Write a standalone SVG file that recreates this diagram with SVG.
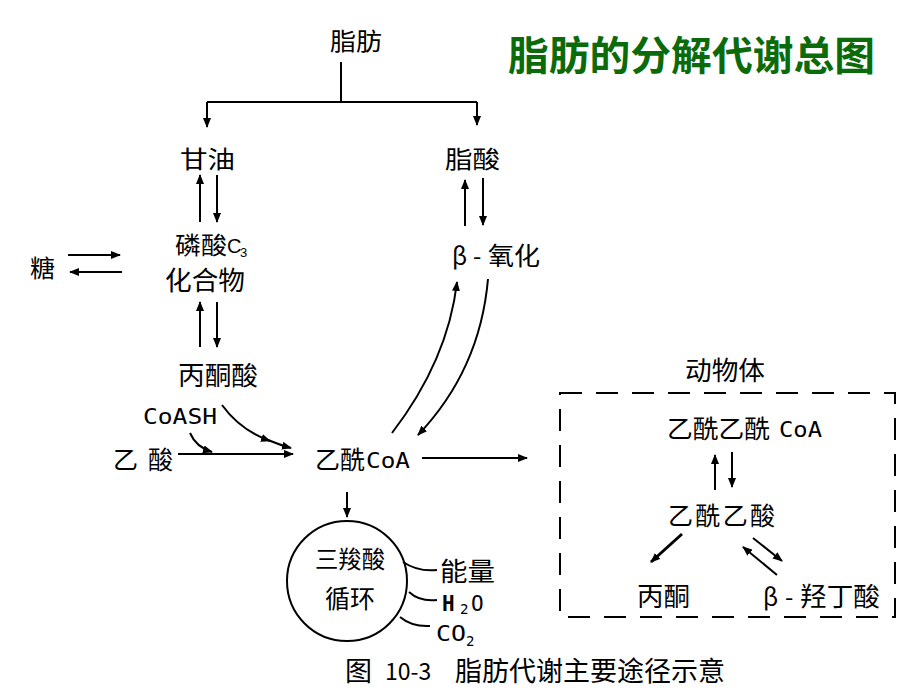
<svg xmlns="http://www.w3.org/2000/svg" width="920" height="690" viewBox="0 0 920 690">
<style>
.t{font-family:"Noto Sans CJK SC","Liberation Sans",sans-serif;fill:#000}
.m{font-family:"DejaVu Sans Mono","Liberation Mono",monospace;fill:#000}
.ln{stroke:#000;stroke-width:2;fill:none}
.title{font-family:"Noto Sans CJK SC",sans-serif;font-size:40px;font-weight:bold;fill:#0b6b0b}
</style>
<defs>
<marker id="ah" markerWidth="10" markerHeight="8" refX="9" refY="4" orient="auto" markerUnits="userSpaceOnUse">
<path d="M0,0 L10,4 L0,8 Z" fill="#000"/>
</marker>
</defs>
<rect width="920" height="690" fill="#fff"/>
<text class="title" x="508" y="70" textLength="367" lengthAdjust="spacingAndGlyphs">脂肪的分解代谢总图</text>

<g id="connectors">
<polyline class="ln" points="341,62 341,102"/>
<polyline class="ln" points="207,102 477,102"/>
<line class="ln" x1="207" y1="102" x2="207" y2="127" marker-end="url(#ah)"/>
<line class="ln" x1="477" y1="102" x2="477" y2="125" marker-end="url(#ah)"/>
<line class="ln" x1="200" y1="222" x2="200" y2="175" marker-end="url(#ah)"/>
<line class="ln" x1="217" y1="175" x2="217" y2="222" marker-end="url(#ah)"/>
<line class="ln" x1="68" y1="255" x2="120" y2="255" marker-end="url(#ah)"/>
<line class="ln" x1="122" y1="272" x2="70" y2="272" marker-end="url(#ah)"/>
<line class="ln" x1="200" y1="347" x2="200" y2="302" marker-end="url(#ah)"/>
<line class="ln" x1="217" y1="302" x2="217" y2="347" marker-end="url(#ah)"/>
<line class="ln" x1="465" y1="226" x2="465" y2="180" marker-end="url(#ah)"/>
<line class="ln" x1="483" y1="178" x2="483" y2="225" marker-end="url(#ah)"/>
<path class="ln" d="M222,405 Q240,430 270,441" marker-end="url(#ah)"/>
<path class="ln" d="M268,440 Q280,445 291,448" marker-end="url(#ah)"/>
<line class="ln" x1="178" y1="454" x2="293" y2="454" marker-end="url(#ah)"/>
<path class="ln" d="M190,433 Q196,447 212,452" marker-end="url(#ah)"/>
<path class="ln" d="M392,433 Q448,360 457,282" marker-end="url(#ah)"/>
<path class="ln" d="M488,279 Q480,370 418,435" marker-end="url(#ah)"/>
<line class="ln" x1="422" y1="458" x2="527" y2="458" marker-end="url(#ah)"/>
<line class="ln" x1="347" y1="492" x2="347" y2="517" marker-end="url(#ah)"/>
<path class="ln" d="M403,562 Q418,572 437,570"/>
<path class="ln" d="M409,592 Q420,602 437,600"/>
<path class="ln" d="M400,617 Q412,627 430,626"/>
<line class="ln" x1="715" y1="490" x2="715" y2="455" marker-end="url(#ah)"/>
<line class="ln" x1="732" y1="452" x2="732" y2="487" marker-end="url(#ah)"/>
<line x1="682" y1="534" x2="651" y2="562" stroke="#000" stroke-width="3" marker-end="url(#ah)"/>
<line x1="753" y1="538" x2="782" y2="561" stroke="#000" stroke-width="2" marker-end="url(#ah)"/>
<line x1="777" y1="575" x2="743" y2="547" stroke="#000" stroke-width="2" marker-end="url(#ah)"/>
<rect x="560" y="393" width="335" height="224" fill="none" stroke="#000" stroke-width="2" stroke-dasharray="22,14"/>
</g>

<g id="n-fat"><text class="t" style="font-size:24px" x="330" y="50" textLength="52" lengthAdjust="spacingAndGlyphs">脂肪</text></g>
<g id="n-glycerol"><text class="t" style="font-size:24px" x="180" y="168" textLength="55" lengthAdjust="spacingAndGlyphs">甘油</text></g>
<g id="n-fattyacid"><text class="t" style="font-size:24px" x="445" y="168" textLength="55" lengthAdjust="spacingAndGlyphs">脂酸</text></g>
<g id="n-c3">
<text class="t" style="font-size:24px" x="175" y="254" textLength="52" lengthAdjust="spacingAndGlyphs">磷酸</text>
<text style="font-family:'Liberation Sans',sans-serif;font-size:20px" x="227" y="253">C</text>
<text style="font-family:'Liberation Sans',sans-serif;font-size:13px" x="240" y="257">3</text>
<text class="t" style="font-size:26px" x="165" y="290" textLength="80" lengthAdjust="spacingAndGlyphs">化合物</text>
</g>
<g id="n-sugar"><text class="t" style="font-size:24px" x="30" y="277" textLength="25" lengthAdjust="spacingAndGlyphs">糖</text></g>
<g id="n-pyruvate"><text class="t" style="font-size:26px" x="178" y="385" textLength="80" lengthAdjust="spacingAndGlyphs">丙酮酸</text></g>
<g id="n-coash"><text class="m" style="font-size:22px" x="143" y="424" textLength="74" lengthAdjust="spacingAndGlyphs">CoASH</text></g>
<g id="n-acetate"><text class="t" style="font-size:25px" x="113" y="469">乙</text><text class="t" style="font-size:25px" x="148" y="469">酸</text></g>
<g id="n-acetylcoa"><text class="t" style="font-size:25px" x="315" y="469" textLength="50" lengthAdjust="spacingAndGlyphs">乙酰</text><text class="m" style="font-size:22px" x="366" y="468" textLength="44" lengthAdjust="spacingAndGlyphs">CoA</text></g>
<g id="n-betaox"><text class="t" style="font-size:24px" x="452" y="265">β</text><text class="t" style="font-size:24px" x="473" y="265">-</text><text class="t" style="font-size:25px" x="488" y="265" textLength="52" lengthAdjust="spacingAndGlyphs">氧化</text></g>
<g id="n-tca">
<circle cx="347" cy="581" r="60" fill="none" stroke="#000" stroke-width="2"/>
<text class="t" style="font-size:24px" x="315" y="568" textLength="70" lengthAdjust="spacingAndGlyphs">三羧酸</text>
<text class="t" style="font-size:25px" x="325" y="608" textLength="50" lengthAdjust="spacingAndGlyphs">循环</text>
</g>
<g id="n-energy"><text class="t" style="font-size:26px" x="440" y="581" textLength="55" lengthAdjust="spacingAndGlyphs">能量</text></g>
<g id="n-h2o"><text class="m" style="font-size:21px;font-weight:bold" x="442" y="611">H</text><text class="m" style="font-size:14px" x="460" y="614">2</text><text class="m" style="font-size:21px" x="471" y="611">O</text></g>
<g id="n-co2"><text class="m" style="font-size:22px" x="436" y="641" textLength="30" lengthAdjust="spacingAndGlyphs">CO</text><text class="m" style="font-size:14px" x="466" y="646">2</text></g>
<g id="n-animal"><text class="t" style="font-size:26px" x="685" y="380" textLength="80" lengthAdjust="spacingAndGlyphs">动物体</text></g>
<g id="n-acacoa"><text class="t" style="font-size:25px" x="667" y="438" textLength="103" lengthAdjust="spacingAndGlyphs">乙酰乙酰</text><text class="m" style="font-size:22px" x="779" y="437" textLength="43" lengthAdjust="spacingAndGlyphs">CoA</text></g>
<g id="n-acac"><text class="t" style="font-size:25px" x="668" y="525" textLength="107" lengthAdjust="spacing">乙酰乙酸</text></g>
<g id="n-acetone"><text class="t" style="font-size:26px" x="637" y="606" textLength="53" lengthAdjust="spacingAndGlyphs">丙酮</text></g>
<g id="n-bhb"><text class="t" style="font-size:24px" x="763" y="606">β</text><text class="t" style="font-size:24px" x="785" y="606">-</text><text class="t" style="font-size:26px" x="800" y="606" textLength="80" lengthAdjust="spacingAndGlyphs">羟丁酸</text></g>
<g id="caption"><text class="t" style="font-size:27px" x="345" y="681">图</text><text class="t" style="font-size:23px" x="385" y="680">10-3</text><text class="t" style="font-size:27px" x="455" y="681" textLength="270" lengthAdjust="spacingAndGlyphs">脂肪代谢主要途径示意</text></g>
</svg>
